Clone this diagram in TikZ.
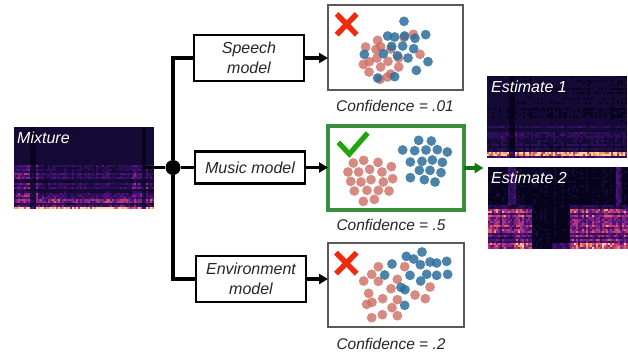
\documentclass[tikz,border=0pt]{standalone}
\usepackage{fontspec}
\setmainfont{Liberation Sans}
\usetikzlibrary{arrows.meta}
\definecolor{mg0}{HTML}{07031C}
\definecolor{mg1}{HTML}{150A36}
\definecolor{mg2}{HTML}{2C0F58}
\definecolor{mg3}{HTML}{50127A}
\definecolor{mg4}{HTML}{7F2582}
\definecolor{mg5}{HTML}{B5367A}
\definecolor{mg6}{HTML}{E55C5E}
\definecolor{mg7}{HTML}{FB9B62}
\definecolor{mg8}{HTML}{FDD79A}
\definecolor{dotred}{HTML}{CC6A60}
\definecolor{dotblue}{HTML}{2C6E9C}
\definecolor{okgreen}{HTML}{3A8F3E}
\definecolor{tickgreen}{HTML}{22A50A}
\definecolor{arrowgreen}{HTML}{0B7A0B}
\definecolor{crossred}{HTML}{F02A0A}
\tikzset{
  modelbox/.style={draw=black,line width=2.8pt,fill=white,inner sep=0pt,outer sep=0pt,align=center,
    font=\fontsize{16}{20}\selectfont\itshape,text=black!85},
  panel/.style={draw=black!65,line width=1.5pt,fill=white,inner sep=0pt,outer sep=0pt},
  goodpanel/.style={draw=okgreen,line width=3.8pt,fill=white,inner sep=0pt,outer sep=0pt},
  wire/.style={line width=3.4pt,draw=black},
  feed/.style={line width=3.4pt,draw=black,-{Triangle[length=9pt,width=10pt]}},
  greenfeed/.style={line width=3.2pt,draw=arrowgreen,-{Triangle[length=9pt,width=10pt]}},
  conf/.style={font=\fontsize{15.5}{18}\selectfont\itshape,text=black!85,inner sep=0pt},
  speclabel/.style={font=\fontsize{16}{18}\selectfont\itshape,text=white,inner sep=0pt,anchor=base west},
  reddot/.style={fill=dotred,opacity=.78},
  bluedot/.style={fill=dotblue,opacity=.85},
  cross/.style={draw=crossred,line width=5.4pt},
  tick/.style={draw=tickgreen,line width=5.2pt}
}
% #1 x, #2 y (top left), #3 hash offset, #4 intensity expression (uses \tv, \sv, \rh, \ch)
\newcommand{\specgram}[4]{%
  \foreach \rr in {0,...,40}{%
    \pgfmathsetmacro\tv{\rr/41}%
    \pgfmathsetmacro\rhs{sin(mod(\rr*\rr,97)*37.1+\rr*11+#3)}%
    \pgfmathsetmacro\rh{0.35+0.75*\rhs*\rhs}%
    \foreach \cc in {0,...,69}{%
      \pgfmathsetmacro\sv{\cc/70}%
      \pgfmathsetmacro\ch{0.75+0.4*abs(sin(mod(\cc*\cc,101)*23.3+#3))}%
      \pgfmathsetmacro\vv{(0.7+0.6*rnd)*(#4)}%
      \pgfmathtruncatemacro\kk{min(8,max(0,round(8*\vv)))}%
      \fill[mg\kk] ({#1+\cc*2},{#2+\rr*2}) rectangle ++(2.3,2.3);%
    }%
  }%
}
\begin{document}
\begin{tikzpicture}[x=1pt,y=-1pt]
\pgfmathsetseed{4242}
\useasboundingbox (0,0) rectangle (628,354);
\fill[white] (0,0) rectangle (628,354);

% spectrograms
\specgram{14}{127}{11}{\ch*(\tv<.45?.11:(\tv>.95?.95*\rh:(\tv>.84?.48*\rh:.31*\rh*((\sv<.16||(\sv>.83&&\sv<.95))?1.35:.85))))*((abs(\sv-.13)<.018||abs(\sv-.92)<.02)?.4:1)}
\specgram{487}{76}{37}{\ch*(\tv<.6?.07*(.5+\rh):((\tv>.92&&\tv<.97)?.9:(\tv>.97?.3:.22*\rh)))*((abs(\sv-.17)<.02)?.3:1)}
\specgram{488}{167}{61}{\ch*(((\sv<.3||\sv>.58)&&\tv>.45)?((\tv>.8&&\sv>.18)?.75*\rh:.55*\rh):((abs(\sv-.16)<.03||abs(\sv-.93)<.02)?.3:((\tv>.92&&\sv>.45)?.3:.05)))}

\node[speclabel] (mixlabel) at (17,143) {Mixture};
\node[speclabel] (est1label) at (491,92) {Estimate 1};
\node[speclabel] (est2label) at (491,183) {Estimate 2};

% panels
\node[panel,minimum width=135pt,minimum height=85pt] (panelA) at (395.5,47.5) {};
\node[goodpanel,minimum width=136pt,minimum height=84pt] (panelB) at (396,168) {};
\node[panel,minimum width=136pt,minimum height=84pt] (panelC) at (396,285) {};

% model boxes
\node[modelbox,minimum width=110pt,minimum height=46pt] (speech) at (249,58) {Speech\\model};
\node[modelbox,minimum width=110pt,minimum height=32pt] (music) at (250,167.5) {Music model};
\node[modelbox,minimum width=110pt,minimum height=46pt] (environment) at (251,279) {Environment\\model};

% junction and connectors
\coordinate (mixout) at (143,167.5);
\node[circle,fill=black,minimum size=15pt,inner sep=0pt] (junction) at (173,167.5) {};
\draw[wire] (mixout) -- (junction);
\draw[wire] (junction) -- (music.west);
\draw[wire] (speech.west) -| (junction);
\draw[wire] (environment.west) -| (junction);
\draw[feed] (speech.east) -- (speech.east -| panelA.west);
\draw[feed] (music.east) -- (music.east -| panelB.west);
\draw[feed] (environment.east) -- (environment.east -| panelC.west);
\draw[greenfeed] (panelB.east) -- ++(19.5,0) coordinate (greenend);

% confidence labels
\node[conf] (confA) at (395,106) {Confidence = .01};
\node[conf] (confB) at (391,225) {Confidence = .5};
\node[conf] (confC) at (391,344) {Confidence = .2};

% top panel dots
\begin{scope}[shift={(320,0)},x=.33333pt,y=-.33333pt]
\foreach \a/\b in {280/103,252/112,173/121,137/141,182/140,168/148,213/147,300/163,171/174,236/174,148/185,204/184,130/193,182/201,236/201,147/216,212/222,202/231,180/238}
  \fill[reddot] (\a,\b) circle (4.9pt);
\foreach \a/\b in {252/64,203/108,224/111,254/108,285/115,317/104,215/139,248/138,281/146,133/163,190/161,232/167,264/174,324/185,289/211,173/234,224/230}
  \fill[bluedot] (\a,\b) circle (4.9pt);
\draw[cross] (50,42) -- (110,104) (110,42) -- (50,104);
\end{scope}

% middle panel dots
\begin{scope}[shift={(320,118)},x=.33333pt,y=-.33333pt]
\foreach \a/\b in {131/127,100/135,174/133,214/146,84/162,116/162,149/154,186/162,218/182,92/190,123/192,153/185,190/192,103/219,141/217,175/217,207/219,130/250,163/244}
  \fill[reddot] (\a,\b) circle (4.9pt);
\foreach \a/\b in {296/67,334/69,248/96,284/98,318/96,352/95,382/102,271/132,306/130,337/126,367/133,298/157,330/157,363/164,271/179,313/185,345/192}
  \fill[bluedot] (\a,\b) circle (4.9pt);
\draw[tick] (55,73) -- (88,108) -- (143,45);
\end{scope}

% bottom panel dots
\begin{scope}[shift={(320,236)},x=.33333pt,y=-.33333pt]
\foreach \a/\b in {175/92,254/92,155/115,131/135,175/136,232/130,213/158,330/153,146/172,285/177,316/188,188/188,232/191,156/199,140/205,216/215,187/236,232/239,155/245}
  \fill[reddot] (\a,\b) circle (4.9pt);
\foreach \a/\b in {306/48,259/61,281/69,216/84,301/86,330/78,350/81,380/76,194/117,270/118,320/115,350/118,383/115,302/135,243/154,255/161,254/208}
  \fill[bluedot] (\a,\b) circle (4.9pt);
\draw[cross] (48,50) -- (110,113) (110,50) -- (48,113);
\end{scope}
\end{tikzpicture}
\end{document}
